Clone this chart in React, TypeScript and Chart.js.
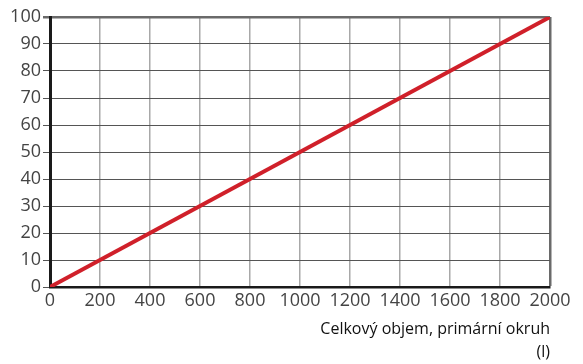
import React, { useEffect, useRef } from "react";
import { Chart, registerables } from "chart.js";

Chart.register(...registerables);

const xValues = [0, 2000];
const yValues = [0, 100];
const xTitle = ["Celkový objem, primární okruh", "(l)"];

export default function App() {
  const ref = useRef<HTMLCanvasElement | null>(null);
  useEffect(() => {
    if (!ref.current) return;
    const font = { family: "Open Sans", size: 18 };
    const chart = new Chart(ref.current, {
      type: "scatter",
      data: {
        datasets: [
          {
            data: xValues.map((x, i) => ({ x, y: yValues[i] })),
            showLine: true,
            borderColor: "#d0202a",
            borderWidth: 4,
            pointRadius: 0,
            borderCapStyle: "butt",
          },
        ],
      },
      options: {
        animation: false,
        responsive: true,
        maintainAspectRatio: false,
        layout: { padding: { top: 17, right: 33, left: 0, bottom: 0 } },
        plugins: { legend: { display: false }, tooltip: { enabled: false } },
        scales: {
          x: {
            type: "linear",
            min: 0,
            max: 2000,
            afterFit: (s: any) => {
              s.height = 77;
            },
            ticks: {
              stepSize: 200,
              color: "#444",
              font,
              padding: 3,
              maxRotation: 0,
              autoSkip: false,
              callback: (v: any) => String(v),
            },
            grid: {
              drawTicks: false,
              tickLength: 0,
              color: (c: any) => (c.index === 10 ? "#6a6a6a" : "#a8a8a8"),
              lineWidth: (c: any) => (c.index === 10 ? 2.5 : 1.5),
            },
            border: { color: "#1a1a1a", width: 2.5 },
            title: {
              display: true,
              text: xTitle,
              align: "end",
              color: "#111",
              font: { family: "Open Sans", size: 16, lineHeight: 1.45 },
              padding: { top: 4, bottom: 0 },
            },
          },
          y: {
            min: 0,
            max: 100,
            afterFit: (s: any) => {
              s.width = 50;
            },
            ticks: { stepSize: 10, color: "#444", font, padding: 2 },
            grid: {
              tickLength: 7,
              color: (c: any) => (c.index === 10 ? "#6a6a6a" : "#555"),
              lineWidth: (c: any) => (c.index === 10 ? 2.5 : 1),
            },
            border: { color: "#1a1a1a", width: 3 },
          },
        },
      },
    } as any);
    return () => chart.destroy();
  }, []);
  return (
    <div style={{ position: "fixed", left: 0, top: 0, width: 583, height: 364, background: "#fff" }}>
      <canvas ref={ref} />
    </div>
  );
}
